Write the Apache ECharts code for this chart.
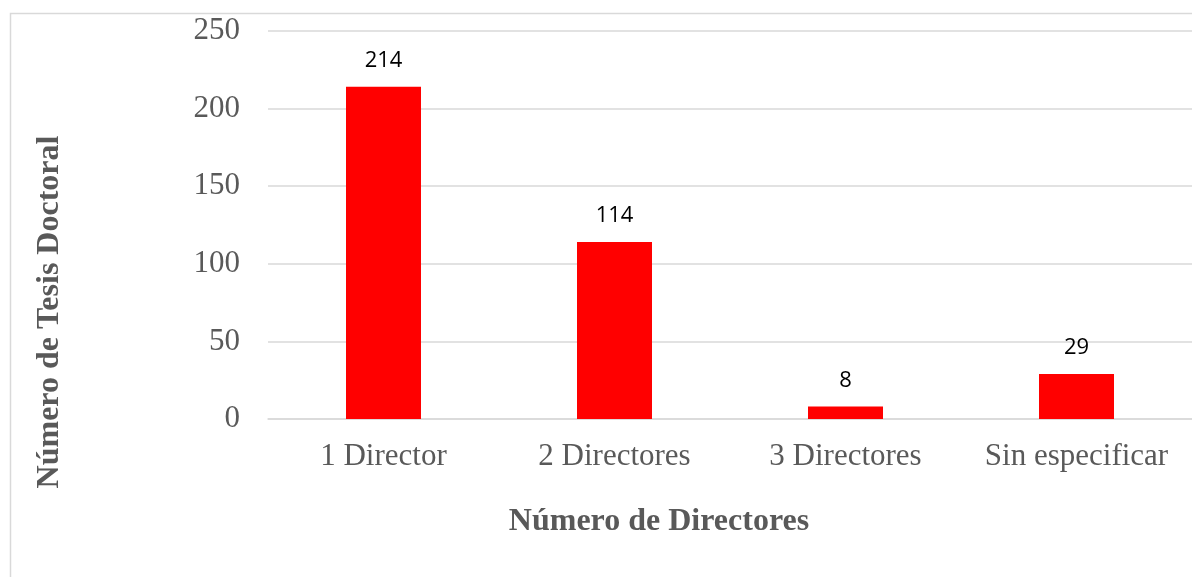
<!DOCTYPE html>
<html>
<head>
<meta charset="utf-8">
<script src="https://cdn.jsdelivr.net/npm/echarts@6/dist/echarts.min.js"></script>
<style>
  html, body { margin: 0; padding: 0; background: #fff; }
  #chart { width: 1192px; height: 577px; }
</style>
</head>
<body>
<div id="chart"></div>
<script>
// 类别与数值
const categories = ["1 Director", "2 Directores", "3 Directores", "Sin especificar"];
const tesisCount = [214, 114, 8, 29];
const yTicks = [0, 50, 100, 150, 200, 250];

const myChart = echarts.init(document.getElementById("chart"));

const option = {
  animation: false,
  backgroundColor: "#fff",
  grid: {
    left: 268,
    right: 0,
    top: 31,
    bottom: 158,
  },
  graphic: [
    {
      type: "rect",
      shape: { x: 10.5, y: 13.5, width: 1300, height: 700 },
      style: { fill: "none", stroke: "#d9d9d9", lineWidth: 1.5 },
      z: -1,
    },
    {
      type: "text",
      x: 50,
      y: 312,
      rotation: Math.PI / 2,
      style: {
        text: "Número de Tesis Doctoral",
        font: "bold 32px 'Liberation Serif', 'Times New Roman', serif",
        fill: "#595959",
        align: "center",
        verticalAlign: "middle",
      },
    },
    {
      type: "text",
      x: 659,
      y: 522,
      style: {
        text: "Número de Directores",
        font: "bold 32px 'Liberation Serif', 'Times New Roman', serif",
        fill: "#595959",
        align: "center",
        verticalAlign: "middle",
      },
    },
  ],
  xAxis: {
    type: "category",
    data: categories,
    axisLine: { show: true, lineStyle: { color: "#d9d9d9", width: 1.5 } },
    axisTick: { show: false },
    axisLabel: {
      interval: 0,
      hideOverlap: false,
      margin: 22,
      color: "#595959",
      fontFamily: "'Liberation Serif', 'Times New Roman', serif",
      fontSize: 31,
    },
  },
  yAxis: {
    type: "value",
    min: yTicks[0],
    max: yTicks[yTicks.length - 1],
    interval: 50,
    axisLine: { show: false },
    axisTick: { show: false },
    axisLabel: {
      margin: 28,
      color: "#595959",
      fontFamily: "'Liberation Serif', 'Times New Roman', serif",
      fontSize: 31,
    },
    splitLine: { show: true, lineStyle: { color: "#d9d9d9", width: 1.5 } },
  },
  series: [
    {
      type: "bar",
      data: tesisCount,
      barWidth: 75,
      itemStyle: { color: "#ff0000" },
      label: {
        show: true,
        position: "top",
        distance: 15,
        color: "#000",
        fontFamily: "'Open Sans', 'Liberation Sans', sans-serif",
        fontSize: 22,
      },
    },
  ],
};

myChart.setOption(option);
window.addEventListener("resize", () => {
  myChart.resize();
});
</script>
</body>
</html>
